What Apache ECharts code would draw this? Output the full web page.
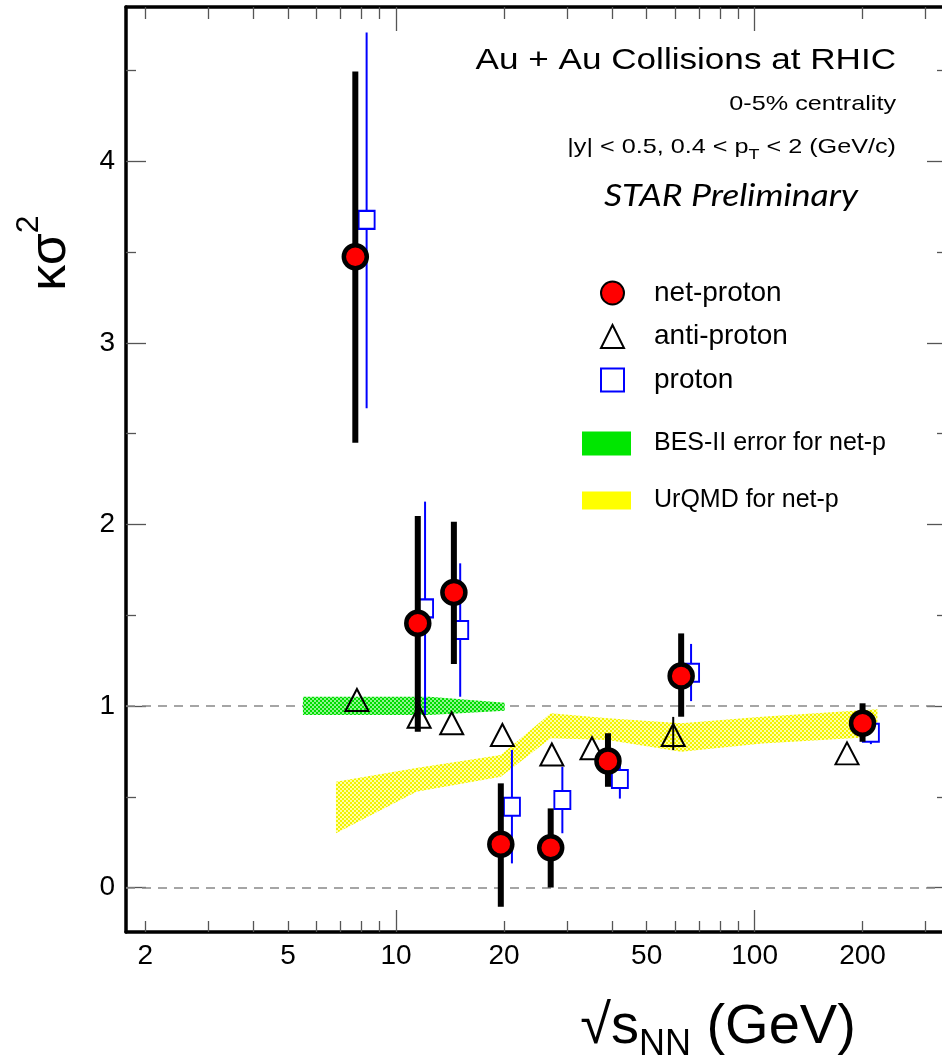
<!DOCTYPE html>
<html>
<head>
<meta charset="utf-8">
<script src="https://cdn.jsdelivr.net/npm/echarts@6/dist/echarts.min.js"></script>
<style>
html, body { margin: 0; padding: 0; background: #fff; overflow: hidden; }
#main { width: 950px; height: 1060px; }
</style>
</head>
<body>
<div id="main"></div>
<script>
// net-proton (red circles), energies in GeV
var netpE  = [7.7, 11.5, 14.5, 19.6, 27, 39, 62.4, 200];
var netpY  = [3.475, 1.456, 1.626, 0.238, 0.219, 0.697, 1.165, 0.905];
var netpLo = [2.451, 0.858, 1.231, -0.106, 0.0, 0.555, 0.941, 0.803];
var netpHi = [4.495, 2.047, 2.015, 0.574, 0.436, 0.85, 1.40, 1.015];

// proton (blue squares, drawn shifted right)
var protE  = [8.28, 12.05, 15.1, 21.05, 29.1, 42.1, 66.5, 211];
var protY  = [3.678, 1.538, 1.419, 0.445, 0.482, 0.598, 1.183, 0.853];
var protLo = [2.64, 0.95, 1.051, 0.133, 0.299, 0.49, 1.027, 0.79];
var protHi = [4.71, 2.126, 1.786, 0.758, 0.665, 0.71, 1.342, 0.92];

// anti-proton (open triangles)
var apE = [7.78, 11.6, 14.3, 19.8, 27.2, 35.2, 59.3, 181];
var apY = [1.033, 0.941, 0.905, 0.840, 0.733, 0.767, 0.840, 0.739];
var apBarE  = [59.3];
var apBarLo = [0.757];
var apBarHi = [0.94];

// BES-II error band (green)
var besE  = [5.5, 12.4, 20.1];
var besLo = [0.950, 0.950, 0.974];
var besHi = [1.051, 1.051, 1.018];

// UrQMD band (yellow)
var urqE  = [6.8, 11.4, 19.6, 27, 39, 62.4, 105, 220];
var urqLo = [0.299, 0.528, 0.61, 0.822, 0.813, 0.748, 0.794, 0.831];
var urqHi = [0.583, 0.658, 0.73, 0.96, 0.932, 0.905, 0.941, 0.982];

var xLabels = [2, 5, 10, 20, 50, 100, 200];
var xMajor  = [10, 100];
var xMinor  = [2, 3, 4, 5, 6, 7, 8, 9, 20, 30, 40, 50, 60, 70, 80, 90, 200, 300];
var yLabels = [0, 1, 2, 3, 4];
var yMinor  = [0.5, 1.5, 2.5, 3.5, 4.5];

var FONT = '"Liberation Sans", Arial, sans-serif';
var lg = Math.log10;
var xMin = lg(1.766), xMax = lg(344);
var yMin = -0.245, yMax = 4.851;

function hatch(c1, c2) {
    var cv = document.createElement('canvas');
    cv.width = 4; cv.height = 4;
    var ctx = cv.getContext('2d');
    ctx.fillStyle = c2; ctx.fillRect(0, 0, 4, 4);
    ctx.fillStyle = c1; ctx.fillRect(0, 0, 2, 2); ctx.fillRect(2, 2, 2, 2);
    return { image: cv, repeat: 'repeat' };
}

function bandSeries(name, E, lo, hi, fill, solid) {
    return {
        name: name, type: 'custom', z: 6, silent: true,
        itemStyle: { color: solid },
        data: E.map(function (e, i) { return [lg(e), lo[i], hi[i]]; }),
        encode: { x: 0, y: [1, 2] },
        renderItem: function (params, api) {
            if (params.dataIndex !== 0) return null;
            var pts = [];
            for (var i = 0; i < E.length; i++) pts.push(api.coord([lg(E[i]), hi[i]]));
            for (var j = E.length - 1; j >= 0; j--) pts.push(api.coord([lg(E[j]), lo[j]]));
            return { type: 'polygon', shape: { points: pts }, style: { fill: fill } };
        }
    };
}

function errSeries(E, lo, hi, color, width, z) {
    return {
        type: 'custom', z: z, silent: true,
        data: E.map(function (e, i) { return [lg(e), lo[i], hi[i]]; }),
        encode: { x: 0, y: [1, 2] },
        renderItem: function (params, api) {
            var a = api.coord([api.value(0), api.value(1)]);
            var b = api.coord([api.value(0), api.value(2)]);
            return {
                type: 'line',
                shape: { x1: a[0], y1: a[1], x2: b[0], y2: b[1] },
                style: { stroke: color, lineWidth: width }
            };
        }
    };
}

function pts(E, Y) {
    return E.map(function (e, i) { return [lg(e), Y[i]]; });
}

var tickStyle = { color: '#555', width: 1.3 };

function axLine(show) {
    return { show: show, onZero: false, lineStyle: { color: '#000', width: 3.5 } };
}

function xAx(pos, ticks, len, line, labels) {
    return {
        type: 'value', position: pos, min: xMin, max: xMax,
        axisLine: axLine(line),
        splitLine: { show: false },
        axisTick: { show: true, inside: true, length: len, customValues: ticks.map(lg), lineStyle: tickStyle },
        axisLabel: labels ? {
            show: true, customValues: xLabels.map(lg), margin: 10,
            fontSize: 28, fontFamily: FONT, color: '#000',
            formatter: function (v) { return String(Math.round(Math.pow(10, v))); }
        } : { show: false }
    };
}

function yAx(pos, ticks, len, line, labels) {
    return {
        type: 'value', position: pos, min: yMin, max: yMax,
        axisLine: axLine(line),
        splitLine: { show: false },
        axisTick: { show: true, inside: true, length: len, customValues: ticks, lineStyle: tickStyle },
        axisLabel: labels ? {
            show: true, customValues: yLabels, margin: 11,
            fontSize: 28, fontFamily: FONT, color: '#000'
        } : { show: false }
    };
}

var greenFill = hatch('#00dd00', '#8ef58e');
var yellowFill = hatch('#f2f200', '#ffffa8');

var option = {
    animation: false,
    backgroundColor: '#fff',
    grid: { left: 126, top: 7, right: 3, bottom: 128 },
    xAxis: [
        xAx('bottom', xMajor, 22, true, true),
        xAx('bottom', xMinor, 11, false, false),
        xAx('top', xMajor, 24, true, false),
        xAx('top', xMinor, 12, false, false)
    ],
    yAxis: [
        yAx('left', yLabels, 20, true, true),
        yAx('left', yMinor, 10, false, false),
        yAx('right', yLabels, 20, true, false),
        yAx('right', yMinor, 10, false, false)
    ],
    legend: [
        {
            data: ['net-proton', 'anti-proton', 'proton'],
            orient: 'vertical', left: 595, top: 274,
            itemWidth: 23, itemHeight: 23, itemGap: 15.5,
            selectedMode: false,
            textStyle: { fontSize: 28, fontFamily: FONT, color: '#000', padding: [0, 0, 0, 25] }
        },
        {
            data: [{ name: 'BES-II error for net-p', icon: 'rect', itemStyle: { color: '#00e600' } }],
            left: 577, top: 426, itemWidth: 49, itemHeight: 24, selectedMode: false,
            textStyle: { fontSize: 25, fontFamily: FONT, color: '#000', padding: [0, 0, 0, 18] }
        },
        {
            data: [{ name: 'UrQMD for net-p', icon: 'rect', itemStyle: { color: '#ffff00' } }],
            left: 577, top: 483, itemWidth: 49, itemHeight: 18, selectedMode: false,
            textStyle: { fontSize: 25, fontFamily: FONT, color: '#000', padding: [0, 0, 0, 18] }
        }
    ],
    graphic: [
        {
            type: 'text', x: 896, y: 61, scaleX: 1.17, silent: true,
            style: { text: 'Au + Au Collisions at RHIC', font: '30px ' + FONT, fill: '#000',
                     textAlign: 'right', align: 'right', textVerticalAlign: 'middle', verticalAlign: 'middle' }
        },
        {
            type: 'text', x: 896, y: 104, scaleX: 1.2, silent: true,
            style: { text: '0-5% centrality', font: '21px ' + FONT, fill: '#000',
                     textAlign: 'right', align: 'right', textVerticalAlign: 'middle', verticalAlign: 'middle' }
        },
        {
            type: 'text', x: 896, y: 147, scaleX: 1.2, silent: true,
            style: {
                text: '{n||y| < 0.5, 0.4 < p}{s|T}{n| < 2 (GeV/c)}',
                textAlign: 'right', align: 'right', textVerticalAlign: 'middle', verticalAlign: 'middle',
                rich: {
                    n: { fontSize: 21, fontFamily: FONT, fill: '#000', color: '#000', lineHeight: 30, verticalAlign: 'middle' },
                    s: { fontSize: 15, fontFamily: FONT, fill: '#000', color: '#000', lineHeight: 30, verticalAlign: 'bottom' }
                }
            }
        },
        {
            type: 'text', x: 731, y: 196, scaleX: 1.15, silent: true,
            style: { text: 'STAR Preliminary', font: 'italic 31px Lato, "Open Sans", sans-serif', fill: '#000',
                     textAlign: 'center', align: 'center', textVerticalAlign: 'middle', verticalAlign: 'middle' }
        },
        {
            type: 'text', x: 45, y: 253, rotation: Math.PI / 2, silent: true,
            style: {
                text: '{a|κσ}{b|2}',
                textAlign: 'center', align: 'center', textVerticalAlign: 'middle', verticalAlign: 'middle',
                rich: {
                    a: { fontSize: 52, fontFamily: FONT, fill: '#000', color: '#000', lineHeight: 64, verticalAlign: 'bottom' },
                    b: { fontSize: 32, fontFamily: FONT, fill: '#000', color: '#000', lineHeight: 64, verticalAlign: 'top' }
                }
            }
        },
        {
            type: 'text', x: 718, y: 1028, silent: true,
            style: {
                text: '{a|√s}{b|NN}{a| (GeV)}',
                textAlign: 'center', align: 'center', textVerticalAlign: 'middle', verticalAlign: 'middle',
                rich: {
                    a: { fontSize: 56, fontFamily: FONT, fill: '#000', color: '#000', lineHeight: 70, verticalAlign: 'middle' },
                    b: { fontSize: 36, fontFamily: FONT, fill: '#000', color: '#000', lineHeight: 70, verticalAlign: 'bottom' }
                }
            }
        }
    ],
    series: [
        bandSeries('UrQMD for net-p', urqE, urqLo, urqHi, yellowFill, '#ffff00'),
        bandSeries('BES-II error for net-p', besE, besLo, besHi, greenFill, '#00e600'),
        errSeries(protE, protLo, protHi, '#0000ff', 2, 7),
        {
            name: 'proton', type: 'scatter', z: 8, silent: true,
            symbol: 'rect', symbolSize: [16, 18],
            itemStyle: { color: '#fff', borderColor: '#0000ff', borderWidth: 2, opacity: 1 },
            data: pts(protE, protY)
        },
        errSeries(apBarE, apBarLo, apBarHi, '#000', 2, 9),
        {
            name: 'anti-proton', type: 'scatter', z: 9, silent: true,
            symbol: 'triangle', symbolSize: [23, 22],
            itemStyle: { color: 'rgba(0,0,0,0)', borderColor: '#000', borderWidth: 2, opacity: 1 },
            data: pts(apE, apY),
            markLine: {
                silent: true, symbol: 'none', z: 2,
                label: { show: false },
                lineStyle: { color: '#888', width: 1.5, type: [9, 7] },
                data: [{ yAxis: 1 }, { yAxis: 0 }]
            }
        },
        errSeries(netpE, netpLo, netpHi, '#000', 6, 10),
        {
            name: 'net-proton', type: 'scatter', z: 11, silent: true,
            symbol: 'circle', symbolSize: 23,
            itemStyle: { color: '#ff0000', borderColor: '#000', borderWidth: 4.5, opacity: 1 },
            data: pts(netpE, netpY)
        }
    ]
};

var chart = echarts.init(document.getElementById('main'));
chart.setOption(option);
</script>
</body>
</html>
